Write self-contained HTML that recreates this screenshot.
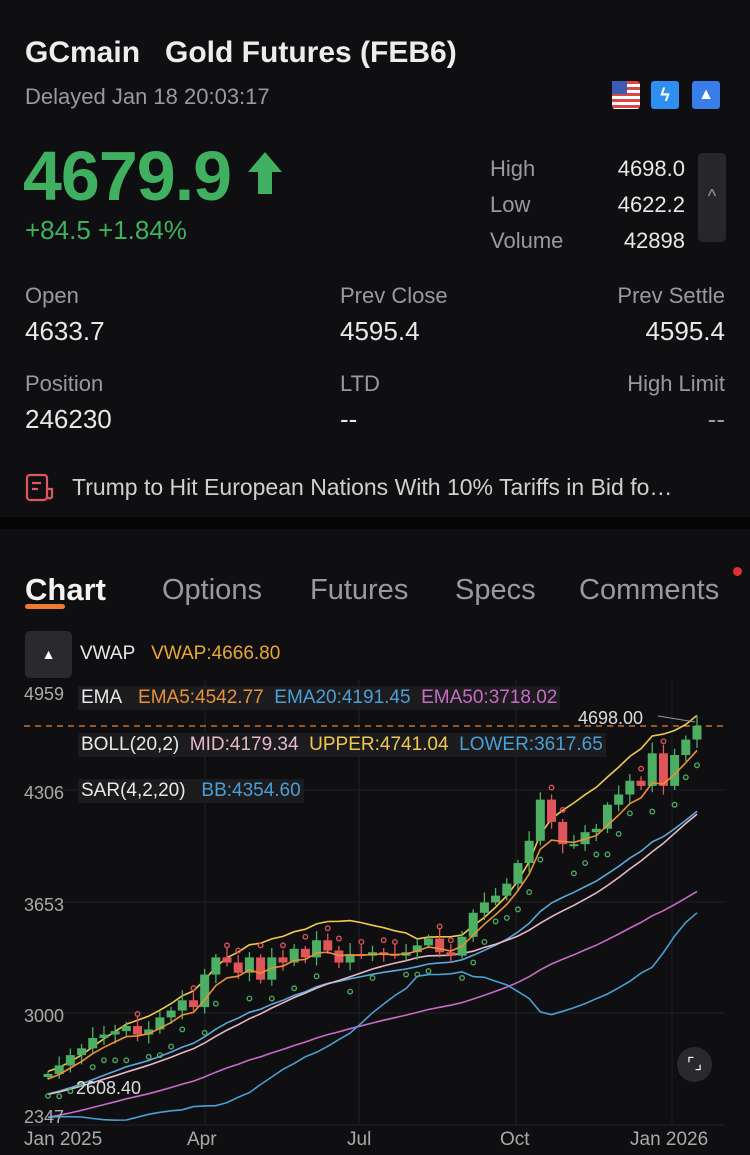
<!DOCTYPE html>
<html><head><meta charset="utf-8">
<style>
body{margin:0;width:750px;height:1155px;background:#0f0f11;font-family:"Liberation Sans",sans-serif;color:#e8e8e8;position:relative;overflow:hidden}
.a{position:absolute;white-space:nowrap}
.g{color:#9a9a9c}
</style></head><body>
<div class="a" style="left:25px;top:36px;font-size:30px;font-weight:bold;color:#ededed">GCmain&nbsp;&nbsp; Gold Futures (FEB6)</div>
<div class="a g" style="left:25px;top:84px;font-size:22px">Delayed Jan 18 20:03:17</div>
<div class="a" style="left:612px;top:81px;width:28px;height:28px;border-radius:3px;background:repeating-linear-gradient(#d44 0 3px,#fff 3px 6px)"><div style="width:15px;height:13px;background:#3b5bb5"></div></div>
<div class="a" style="left:651px;top:81px;width:28px;height:28px;border-radius:3px;background:#2f8ff0;color:#fff;font-size:18px;text-align:center;line-height:28px;font-weight:bold">ϟ</div>
<div class="a" style="left:692px;top:81px;width:28px;height:28px;border-radius:3px;background:#3b7de8;color:#fff;font-size:16px;text-align:center;line-height:28px">▲</div>
<div class="a" style="left:23px;top:136px;font-size:70px;font-weight:bold;color:#3fb060;letter-spacing:-1px">4679.9</div>
<svg class="a" style="left:246px;top:150px" width="38" height="46"><path d="M19 2 L36 22 H26 V44 H12 V22 H2 Z" fill="#3fb060"/></svg>
<div class="a" style="left:25px;top:215px;font-size:26px;color:#3fb060">+84.5 +1.84%</div>
<div class="a g" style="left:490px;top:151px;font-size:22px;line-height:36px">High<br>Low<br>Volume</div>
<div class="a" style="right:65px;top:151px;font-size:22px;line-height:36px;text-align:right">4698.0<br>4622.2<br>42898</div>
<div class="a" style="left:698px;top:153px;width:28px;height:89px;background:#27272a;border-radius:4px;color:#999;text-align:center;line-height:86px;font-size:18px">^</div>
<div class="a g" style="left:25px;top:283px;font-size:22px">Open</div>
<div class="a" style="left:25px;top:316px;font-size:26px">4633.7</div>
<div class="a g" style="left:340px;top:283px;font-size:22px">Prev Close</div>
<div class="a" style="left:340px;top:316px;font-size:26px">4595.4</div>
<div class="a g" style="right:25px;top:283px;font-size:22px">Prev Settle</div>
<div class="a" style="right:25px;top:316px;font-size:26px">4595.4</div>
<div class="a g" style="left:25px;top:371px;font-size:22px">Position</div>
<div class="a" style="left:25px;top:404px;font-size:26px">246230</div>
<div class="a g" style="left:340px;top:371px;font-size:22px">LTD</div>
<div class="a" style="left:340px;top:404px;font-size:26px">--</div>
<div class="a g" style="right:25px;top:371px;font-size:22px">High Limit</div>
<div class="a g" style="right:25px;top:404px;font-size:26px">--</div>
<svg class="a" style="left:25px;top:473px" width="30" height="30"><rect x="2" y="2" width="20" height="25" rx="3" fill="none" stroke="#e05560" stroke-width="2.2"/><path d="M7 10h9M7 16h6M22 16h5v8a3 3 0 0 1-5 0" fill="none" stroke="#e05560" stroke-width="2.2"/></svg>
<div class="a" style="left:72px;top:474px;font-size:23px;color:#d0d0d0">Trump to Hit European Nations With 10% Tariffs in Bid fo…</div>
<div class="a" style="left:0;top:517px;width:750px;height:12px;background:#050506"></div>
<div class="a" style="left:25px;top:572px;font-size:31px;font-weight:bold;color:#f2f2f2">Chart</div>
<div class="a" style="left:25px;top:604px;width:40px;height:5px;background:#f07a30;border-radius:3px"></div>
<div class="a g" style="left:162px;top:574px;font-size:29px">Options</div>
<div class="a g" style="left:310px;top:574px;font-size:29px">Futures</div>
<div class="a g" style="left:455px;top:574px;font-size:29px">Specs</div>
<div class="a g" style="left:579px;top:574px;font-size:29px">Comments</div>
<div class="a" style="left:733px;top:567px;width:9px;height:9px;border-radius:5px;background:#e03030"></div>
<div class="a" style="left:25px;top:631px;width:47px;height:47px;background:#2a2a2d;border-radius:5px;color:#fff;text-align:center;line-height:47px;font-size:14px">▲</div>
<div class="a" style="left:80px;top:643px;font-size:19px">VWAP&nbsp;&nbsp; <span style="color:#e8a838">VWAP:4666.80</span></div>
<svg class="a" style="left:0;top:0" width="750" height="1155" id="ch"></svg>
<div class="a" style="left:78px;top:686px;font-size:19px;background:#1c1c1f;padding:1px 3px">EMA&nbsp;&nbsp; <span style="color:#e8913a">EMA5:4542.77</span>&nbsp;&nbsp;<span style="color:#4a9fd6">EMA20:4191.45</span>&nbsp;&nbsp;<span style="color:#c86bc8">EMA50:3718.02</span></div>
<div class="a" style="left:78px;top:733px;font-size:19px;background:#1c1c1f;padding:1px 3px">BOLL(20,2)&nbsp; <span style="color:#e6b8c8">MID:4179.34</span>&nbsp; <span style="color:#f0c850">UPPER:4741.04</span>&nbsp; <span style="color:#4a9fd6">LOWER:3617.65</span></div>
<div class="a" style="left:78px;top:779px;font-size:19px;background:#1c1c1f;padding:1px 3px">SAR(4,2,20)&nbsp;&nbsp; <span style="color:#4a9fd6">BB:4354.60</span></div>
<div class="a" style="left:677px;top:1047px;width:35px;height:35px;border-radius:18px;background:#2a2a2d;color:#fff;font-size:16px;text-align:center;line-height:35px">⌜⌟</div>
<script>
var P=[2650,2700,2760,2800,2860,2880,2900,2930,2880,2910,2980,3020,3080,3040,3230,3330,3300,3240,3330,3200,3330,3300,3380,3330,3430,3370,3300,3350,3340,3360,3350,3340,3360,3400,3440,3360,3340,3450,3590,3650,3690,3760,3880,4010,4250,4120,3990,3990,4060,4080,4220,4280,4360,4330,4520,4330,4510,4600,4680];
var pre=[];for(var i=0;i<60;i++)pre.push(2000+i*10.5+Math.sin(i)*20);
var all=pre.concat(P),n=P.length,off=pre.length;
function Y(p){return 790-(p-4306)*0.1715}
function X(i){return 48+i*649/(n-1)}
var s='';
[[790,4306],[902,3653],[1013,3000],[1125,2347]].forEach(function(g){s+='<line x1="24" x2="725" y1="'+g[0]+'" y2="'+g[0]+'" stroke="#222226"/>';});
[205,359,516,672].forEach(function(x){s+='<line x1="'+x+'" x2="'+x+'" y1="680" y2="1125" stroke="#222226"/>';});
s+='<line x1="24" x2="725" y1="726" y2="726" stroke="#e0833a" stroke-dasharray="6,5" stroke-width="1.3"/>';
function ema(k){var a=2/(k+1),e=all[0],r=[];all.forEach(function(v){e=e+a*(v-e);r.push(e)});return r}
function line(arr,c){var d='';for(var i=0;i<n;i++)d+=(i?'L':'M')+X(i).toFixed(1)+' '+Y(arr[i+off]).toFixed(1);s+='<path d="'+d+'" fill="none" stroke="'+c+'" stroke-width="1.6"/>';}
var e5=ema(5),e20=ema(20),e50=ema(50),mid=[],up=[],lo=[];
for(var i=0;i<all.length;i++){var w=all.slice(Math.max(0,i-19),i+1),m=w.reduce(function(a,b){return a+b})/w.length,sd=Math.sqrt(w.reduce(function(a,b){return a+(b-m)*(b-m)},0)/w.length);mid.push(m);up.push(m+2*sd);lo.push(m-2*sd);}
line(e50,'#c86bc8');line(lo,'#4a9fd6');line(e20,'#5aa8dc');line(mid,'#e6b8c8');line(up,'#f0c850');
for(var i=0;i<n;i++){var c=all[i+off],o=all[i+off-1],g=c>=o,col=g?'#4caf63':'#e0555a',x=X(i),hi=Math.max(c,o)+15+(i*37%50),lw=Math.min(c,o)-15-(i*53%40);
s+='<line x1="'+x+'" x2="'+x+'" y1="'+Y(hi)+'" y2="'+Y(lw)+'" stroke="'+col+'" stroke-width="1.3"/>';
var t=Y(Math.max(c,o)),h=Math.max(2,Math.abs(Y(c)-Y(o)));s+='<rect x="'+(x-4.5)+'" y="'+t+'" width="9" height="'+h+'" fill="'+col+'"/>';
var sp=g||i<3?Math.min(c,o)-110-(i%4)*20:Math.max(c,o)+70;s+='<circle cx="'+x+'" cy="'+Y(sp)+'" r="2.3" fill="none" stroke="'+(g?'#4caf63':'#e0555a')+'" stroke-width="1.3"/>';}
line(e5,'#e8913a');
s+='<text x="24" y="700" fill="#aaa" font-size="18" font-family="Liberation Sans">4959</text><text x="24" y="799" fill="#aaa" font-size="18" font-family="Liberation Sans">4306</text><text x="24" y="911" fill="#aaa" font-size="18" font-family="Liberation Sans">3653</text><text x="24" y="1022" fill="#aaa" font-size="18" font-family="Liberation Sans">3000</text><text x="24" y="1123" fill="#aaa" font-size="18" font-family="Liberation Sans">2347</text>';
s+='<text x="578" y="724" fill="#ddd" font-size="18" font-family="Liberation Sans">4698.00</text><line x1="658" y1="716" x2="695" y2="722" stroke="#999"/><text x="76" y="1094" fill="#ddd" font-size="18" font-family="Liberation Sans">2608.40</text>';
[['Jan 2025',24],['Apr',187],['Jul',347],['Oct',500],['Jan 2026',630]].forEach(function(l){s+='<text x="'+l[1]+'" y="1145" fill="#aaa" font-size="19" font-family="Liberation Sans">'+l[0]+'</text>';});
document.getElementById('ch').innerHTML=s;
</script>
</body></html>
